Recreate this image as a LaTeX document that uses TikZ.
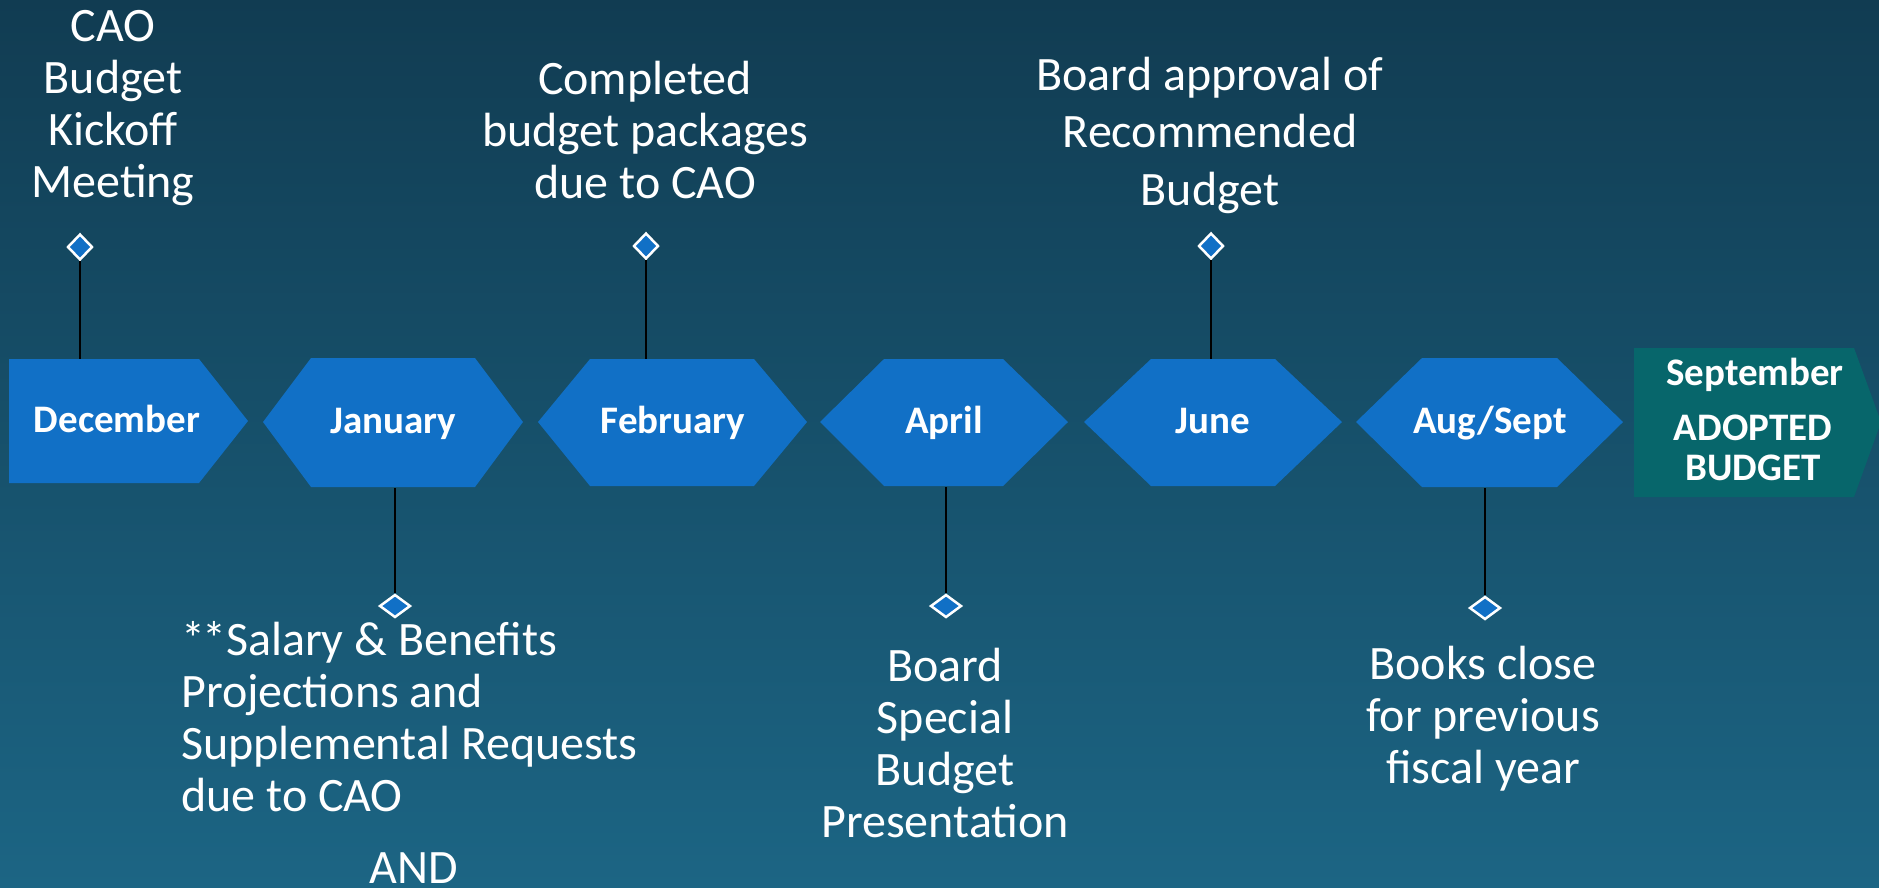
\documentclass[tikz,border=0pt]{standalone}
\usepackage{fontspec}
\setmainfont{Carlito}
\usetikzlibrary{shapes.geometric}
\definecolor{bgtop}{HTML}{113C52}
\definecolor{bgbot}{HTML}{1C6584}
\definecolor{shapeblue}{HTML}{1170C6}
\definecolor{shapeteal}{HTML}{07666B}
\tikzset{
  monthshape/.style={fill=shapeblue},
  finalshape/.style={fill=shapeteal},
  monthlabel/.style={text=white, inner sep=0pt, anchor=base, font=\fontsize{39}{40}\selectfont\bfseries},
  eventtext/.style={text=white, inner sep=0pt, anchor=base, align=center, font=\fontsize{48}{51.7}\selectfont},
  pin/.style={shape=diamond, draw=white, line width=2.5pt, fill=shapeblue, inner sep=0pt},
  toppin/.style={pin, minimum width=25pt, minimum height=26pt},
  botpin/.style={pin, minimum width=31pt, minimum height=23pt},
  stem/.style={draw=black, line width=1.5pt}
}
\begin{document}
\begin{tikzpicture}[x=1pt,y=-1pt]
\useasboundingbox (0,0) rectangle (1879,887);
\shade[top color=bgtop, bottom color=bgbot] (0,0) rectangle (1879,887);

% shapes
\fill[monthshape] (9,359) -- (199,359) -- (248,421) -- (199,483) -- (9,483) -- cycle;
\fill[monthshape] (263,422) -- (311,358) -- (475,358) -- (523,422) -- (475,487) -- (311,487) -- cycle;
\fill[monthshape] (538,422) -- (590,359) -- (754,359) -- (807,422) -- (754,486) -- (590,486) -- cycle;
\fill[monthshape] (820,422) -- (884,359) -- (1003,359) -- (1068,422) -- (1003,486) -- (884,486) -- cycle;
\fill[monthshape] (1084,422) -- (1151,359) -- (1275,359) -- (1342,422) -- (1275,486) -- (1151,486) -- cycle;
\fill[monthshape] (1356,422) -- (1422,358) -- (1557,358) -- (1623,422) -- (1557,487) -- (1422,487) -- cycle;
\fill[finalshape] (1634,348) -- (1854,348) -- (1881,422) -- (1854,497) -- (1634,497) -- cycle;

% month labels
\node[monthlabel] (dec) at (117,432) {December};
\node[monthlabel] (jan) at (393,433) {January};
\node[monthlabel] (feb) at (673,433) {February};
\node[monthlabel] (apr) at (944,433) {April};
\node[monthlabel] (jun) at (1213,433) {June};
\node[monthlabel] (aug) at (1490,433) {Aug/Sept};
\node[monthlabel] (sep) at (1755,385) {September};
\node[monthlabel, align=center, font=\fontsize{39}{40}\selectfont\bfseries] (adopted) at (1753,480) {ADOPTED\\BUDGET};

% anchor points on shapes
\coordinate (decTop) at (80,359);
\coordinate (febTop) at (646,359);
\coordinate (junTop) at (1211,359);
\coordinate (janBot) at (395,488);
\coordinate (aprBot) at (946,487);
\coordinate (augBot) at (1485,488);

% pins
\node[toppin] (p1) at (80,247) {};
\node[toppin] (p2) at (646,246) {};
\node[toppin] (p3) at (1211,246) {};
\node[botpin] (p4) at (395,606) {};
\node[botpin] (p5) at (946,606) {};
\node[botpin] (p6) at (1485,608) {};

\draw[stem] (p1.south) -- (decTop);
\draw[stem] (p2.south) -- (febTop);
\draw[stem] (p3.south) -- (junTop);
\draw[stem] (janBot) -- (p4.north);
\draw[stem] (aprBot) -- (p5.north);
\draw[stem] (augBot) -- (p6.north);

% event texts (anchor = baseline of last line)
\node[eventtext] (kick) at (113,197) {CAO\\Budget\\Kickoff\\Meeting};
\node[eventtext] (pkg) at (645,198) {Completed\\budget packages\\due to CAO};
\node[eventtext, font=\fontsize{48}{57.5}\selectfont] (appr) at (1210,205) {Board approval of\\Recommended\\Budget};
\node[eventtext, align=left, anchor=base west] (sal) at (181,811) {*\kern-3pt*Salary \& Benefits\\Projections and\\Supplemental Requests\\due to CAO};
\node[eventtext] (and) at (414,883) {AND};
\node[eventtext] (pres) at (945,837) {Board\\Special\\Budget\\Presentation};
\node[eventtext] (books) at (1483,783) {Books close\\for previous\\fiscal year};
\end{tikzpicture}
\end{document}
